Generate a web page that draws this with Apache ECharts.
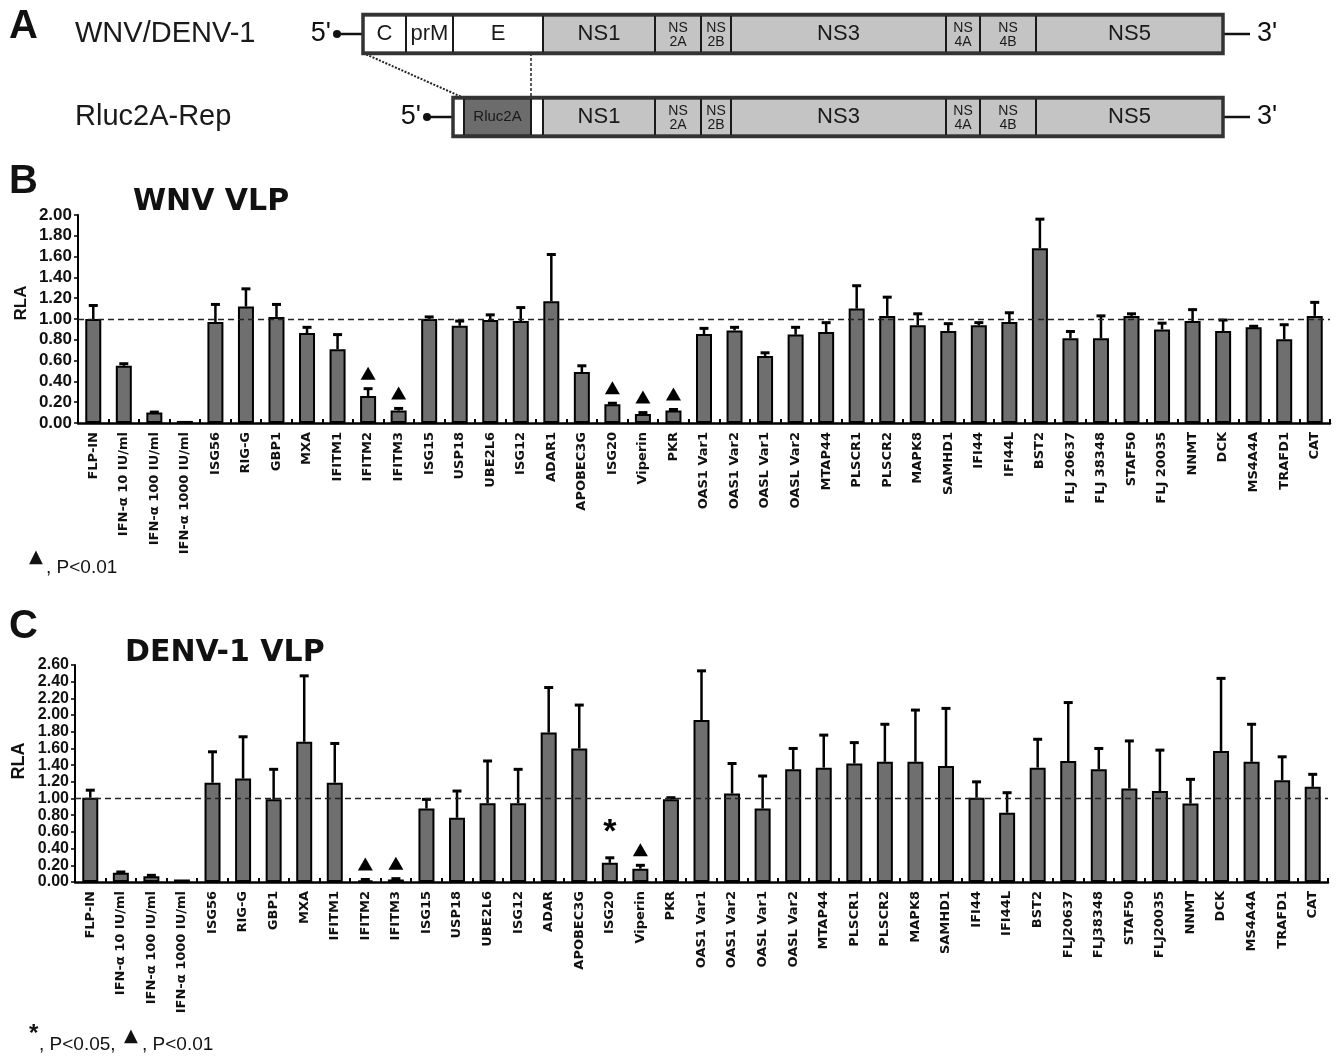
<!DOCTYPE html>
<html>
<head>
<meta charset="utf-8">
<title>WNV / DENV-1 VLP</title>
<script src="https://cdn.jsdelivr.net/npm/echarts@6/dist/echarts.min.js"></script>
<style>
html, body { margin: 0; padding: 0; background: #fff; }
#main { width: 1342px; height: 1058px; }
</style>
</head>
<body>
<div id="main"></div>
<script>
// ---- panel A: genome map, units along the map (0 = start of C) ----
var mapRows = ['WNV/DENV-1', 'Rluc2A-Rep'];
var segLabels = ['C', 'prM', 'E', 'NS1', 'NS\n2A', 'NS\n2B', 'NS3', 'NS\n4A', 'NS\n4B', 'NS5',
                 '', 'Rluc2A', '', 'NS1', 'NS\n2A', 'NS\n2B', 'NS3', 'NS\n4A', 'NS\n4B', 'NS5'];
var segStart  = [0, 43, 90, 180, 292, 338, 368, 583, 617, 673,
                 90, 101, 168, 180, 292, 338, 368, 583, 617, 673];
var segEnd    = [43, 90, 180, 292, 338, 368, 583, 617, 673, 860,
                 101, 168, 180, 292, 338, 368, 583, 617, 673, 860];
var segRow    = [0, 0, 0, 0, 0, 0, 0, 0, 0, 0,
                 1, 1, 1, 1, 1, 1, 1, 1, 1, 1];
var segKind   = ['w', 'w', 'w', 'g', 'g', 'g', 'g', 'g', 'g', 'g',
                 'w', 'd', 'w', 'g', 'g', 'g', 'g', 'g', 'g', 'g'];
var rowStart = [0, 90];
var rowEnd = [860, 860];
var linkTop = [0, 168];     // where the dotted links leave row 0
var linkBottom = [101, 168]; // where they reach row 1

// ---- panel B: WNV VLP ----
var catsB = ['FLP-IN', 'IFN-α 10 IU/ml', 'IFN-α 100 IU/ml', 'IFN-α 1000 IU/ml', 'ISG56', 'RIG-G', 'GBP1', 'MXA',
  'IFITM1', 'IFITM2', 'IFITM3', 'ISG15', 'USP18', 'UBE2L6', 'ISG12', 'ADAR1', 'APOBEC3G', 'ISG20', 'Viperin', 'PKR',
  'OAS1 Var1', 'OAS1 Var2', 'OASL Var1', 'OASL Var2', 'MTAP44', 'PLSCR1', 'PLSCR2', 'MAPK8', 'SAMHD1', 'IFI44',
  'IFI44L', 'BST2', 'FLJ 20637', 'FLJ 38348', 'STAF50', 'FLJ 20035', 'NNMT', 'DCK', 'MS4A4A', 'TRAFD1', 'CAT'];
var rlaB = [1.00, 0.55, 0.10, 0.02, 0.97, 1.12, 1.02, 0.865, 0.71, 0.26, 0.12, 1.00, 0.935, 0.99, 0.98, 1.17, 0.49,
  0.18, 0.087, 0.12, 0.855, 0.89, 0.645, 0.85, 0.875, 1.10, 1.03, 0.94, 0.885, 0.94, 0.97, 1.68, 0.815, 0.815, 1.03,
  0.90, 0.98, 0.885, 0.92, 0.805, 1.03];
var sdB = [0.13, 0.02, 0.005, 0, 0.17, 0.17, 0.12, 0.055, 0.14, 0.07, 0.02, 0.02, 0.045, 0.05, 0.13, 0.45, 0.06,
  0.01, 0.013, 0.01, 0.055, 0.03, 0.03, 0.07, 0.09, 0.22, 0.18, 0.11, 0.07, 0.025, 0.09, 0.28, 0.065, 0.215, 0.02,
  0.06, 0.11, 0.105, 0.01, 0.14, 0.13];
var triB = ['IFITM2', 'IFITM3', 'ISG20', 'Viperin', 'PKR'];
var starB = [];
var ticksB = { max: 2.0, step: 0.2 };

// ---- panel C: DENV-1 VLP ----
var catsC = ['FLP-IN', 'IFN-α 10 IU/ml', 'IFN-α 100 IU/ml', 'IFN-α 1000 IU/ml', 'ISG56', 'RIG-G', 'GBP1', 'MXA',
  'IFITM1', 'IFITM2', 'IFITM3', 'ISG15', 'USP18', 'UBE2L6', 'ISG12', 'ADAR', 'APOBEC3G', 'ISG20', 'Viperin', 'PKR',
  'OAS1 Var1', 'OAS1 Var2', 'OASL Var1', 'OASL Var2', 'MTAP44', 'PLSCR1', 'PLSCR2', 'MAPK8', 'SAMHD1', 'IFI44',
  'IFI44L', 'BST2', 'FLJ20637', 'FLJ38348', 'STAF50', 'FLJ20035', 'NNMT', 'DCK', 'MS4A4A', 'TRAFD1', 'CAT'];
var rlaC = [1.01, 0.11, 0.07, 0.03, 1.19, 1.24, 0.99, 1.68, 1.19, 0.02, 0.03, 0.88, 0.77, 0.945, 0.945, 1.79, 1.60,
  0.23, 0.16, 0.99, 1.94, 1.06, 0.88, 1.35, 1.37, 1.42, 1.44, 1.44, 1.39, 1.01, 0.83, 1.37, 1.45, 1.35, 1.12, 1.09,
  0.94, 1.57, 1.44, 1.22, 1.14];
var sdC = [0.09, 0.01, 0.01, 0, 0.37, 0.50, 0.36, 0.79, 0.47, 0.01, 0.01, 0.11, 0.32, 0.505, 0.405, 0.54, 0.52,
  0.06, 0.04, 0.02, 0.59, 0.36, 0.39, 0.25, 0.39, 0.25, 0.45, 0.62, 0.69, 0.19, 0.24, 0.34, 0.70, 0.25, 0.57, 0.49,
  0.29, 0.87, 0.45, 0.28, 0.15];
var triC = ['IFITM2', 'IFITM3', 'Viperin'];
var starC = ['ISG20'];
var ticksC = { max: 2.6, step: 0.2 };

var NARROW = "'Liberation Sans Narrow', 'Liberation Sans', Arial, sans-serif";
var SANS = "'Liberation Sans', Arial, sans-serif";
var WIDE = "'DejaVu Sans', sans-serif";

var myChart = echarts.init(document.getElementById('main'));

/**
 * 基因组片段
 */
function renderSegment(params, api) {
  var i = params.dataIndex;
  var a = api.coord([api.value(0), api.value(2)]);
  var b = api.coord([api.value(1), api.value(2)]);
  var h = 37;
  var fill = segKind[i] === 'g' ? '#c4c4c4' : (segKind[i] === 'd' ? '#6c6c6c' : '#ffffff');
  var label = segLabels[i];
  var twoLine = label.indexOf('\n') >= 0;
  return {
    type: 'group',
    children: [{
      type: 'rect',
      shape: { x: a[0], y: a[1] - h / 2, width: b[0] - a[0], height: h },
      style: { fill: fill, stroke: '#1a1a1a', lineWidth: 2 }
    }, {
      type: 'text',
      style: {
        text: label,
        x: (a[0] + b[0]) / 2,
        y: a[1] + (twoLine ? 1 : 0),
        align: 'center',
        verticalAlign: 'middle',
        fill: '#1a1a1a',
        font: twoLine ? '14px ' + NARROW : (segKind[i] === 'd' ? '15px ' + SANS : '22px ' + NARROW),
        lineHeight: 14
      }
    }]
  };
}

function renderRowEnds(params, api) {
  var a = api.coord([api.value(0), api.value(2)]);
  var b = api.coord([api.value(1), api.value(2)]);
  var h = 37;
  return {
    type: 'group',
    children: [
      { type: 'line', shape: { x1: a[0] - 25, y1: a[1], x2: a[0], y2: a[1] }, style: { stroke: '#111', lineWidth: 2.5 } },
      { type: 'circle', shape: { cx: a[0] - 26, cy: a[1], r: 4 }, style: { fill: '#111' } },
      { type: 'text', style: { text: "5'", x: a[0] - 32, y: a[1], align: 'right', verticalAlign: 'middle', fill: '#111', font: '27px ' + NARROW } },
      { type: 'line', shape: { x1: b[0], y1: b[1], x2: b[0] + 27, y2: b[1] }, style: { stroke: '#111', lineWidth: 2.5 } },
      { type: 'text', style: { text: "3'", x: b[0] + 34, y: b[1], align: 'left', verticalAlign: 'middle', fill: '#111', font: '27px ' + NARROW } },
      { type: 'rect', shape: { x: a[0], y: a[1] - h / 2 - 1, width: b[0] - a[0], height: h + 2 }, style: { fill: 'none', stroke: '#333', lineWidth: 3.5 } }
    ]
  };
}

function renderLink(params, api) {
  var a = api.coord([api.value(0), 0]);
  var b = api.coord([api.value(1), 1]);
  var diagonal = api.value(0) !== api.value(1);
  return {
    type: 'line',
    shape: { x1: a[0], y1: a[1] + 19, x2: b[0], y2: b[1] - 19 },
    style: { stroke: '#222', lineWidth: diagonal ? 2 : 1.5, lineDash: diagonal ? [2, 1.5] : [3, 2] }
  };
}

// 误差线
function renderErr(params, api) {
  var sd = api.value(2);
  if (!sd) return null;
  var p0 = api.coord([api.value(0), api.value(1)]);
  var p1 = api.coord([api.value(0), api.value(1) + sd]);
  return {
    type: 'group',
    children: [
      { type: 'line', shape: { x1: p0[0], y1: p0[1], x2: p1[0], y2: p1[1] }, style: { stroke: '#000', lineWidth: 2.5 } },
      { type: 'line', shape: { x1: p1[0] - 4.5, y1: p1[1], x2: p1[0] + 4.5, y2: p1[1] }, style: { stroke: '#000', lineWidth: 3 } }
    ]
  };
}

// 显著性标记
function renderMark(params, api) {
  var p = api.coord([api.value(0), api.value(1)]);
  if (api.value(2) === 1) {
    return {
      type: 'text',
      style: { text: '*', x: p[0], y: p[1] - 8, align: 'center', verticalAlign: 'bottom', fill: '#000', font: 'bold 34px ' + SANS }
    };
  }
  var cy = p[1] - 15;
  return {
    type: 'polygon',
    shape: { points: [[p[0], cy - 7], [p[0] + 7.5, cy + 6], [p[0] - 7.5, cy + 6]] },
    style: { fill: '#000' }
  };
}

function errData(cats, vals, sds) {
  return cats.map(function (c, i) { return [i, vals[i], sds[i]]; });
}

function markData(cats, vals, sds, tri, star) {
  var out = [];
  cats.forEach(function (c, i) {
    if (tri.indexOf(c) >= 0) out.push([i, vals[i] + sds[i], 0]);
    if (star.indexOf(c) >= 0) out.push([i, vals[i] + sds[i], 1]);
  });
  return out;
}

function catAxis(grid, cats) {
  return {
    type: 'category', gridIndex: grid, data: cats,
    axisLine: { lineStyle: { color: '#000', width: 2.5 } },
    axisTick: { show: true, inside: true, length: 4, lineStyle: { color: '#000', width: 2 } },
    axisLabel: { rotate: 90, interval: 0, margin: 9, color: '#111', fontFamily: WIDE, fontWeight: 'bold', fontSize: 13 }
  };
}

function valAxis(grid, t, fs) {
  return {
    type: 'value', gridIndex: grid, min: 0, max: t.max, interval: t.step,
    axisLine: { show: true, lineStyle: { color: '#000', width: 2 } },
    axisTick: { show: true, length: 4, lineStyle: { color: '#000', width: 1.5 } },
    splitLine: { show: false },
    axisLabel: {
      margin: 6, color: '#111', fontFamily: SANS, fontWeight: 'bold', fontSize: fs,
      formatter: function (v) { return v.toFixed(2); }
    }
  };
}

function barSeries(axis, vals) {
  return {
    type: 'bar', xAxisIndex: axis, yAxisIndex: axis, data: vals, barWidth: 16,
    itemStyle: { color: '#6f6f6f', borderColor: '#000', borderWidth: 2 },
    markLine: {
      silent: true, symbol: ['none', 'none'], label: { show: false },
      lineStyle: { color: '#222', type: [6, 4], width: 1.3 },
      data: [{ yAxis: 1 }]
    }
  };
}

var graphicText = function (text, x, y, font, extra) {
  var s = { text: text, x: x, y: y, font: font, fill: '#111', align: 'left', verticalAlign: 'middle' };
  for (var k in extra || {}) s[k] = extra[k];
  return { type: 'text', style: s };
};

var option = {
  animation: false,
  backgroundColor: '#fff',
  grid: [
    { left: 363, width: 860, top: 34, height: 83 },
    { left: 78, right: 12, top: 215, height: 208 },
    { left: 75, right: 14, top: 665, height: 217 }
  ],
  xAxis: [
    { type: 'value', gridIndex: 0, min: 0, max: 860, show: false },
    catAxis(1, catsB),
    catAxis(2, catsC)
  ],
  yAxis: [
    {
      type: 'category', gridIndex: 0, data: mapRows, inverse: true, boundaryGap: false,
      axisLine: { show: false }, axisTick: { show: false },
      axisLabel: { margin: 288, align: 'left', color: '#1a1a1a', fontFamily: NARROW, fontSize: 29 }
    },
    valAxis(1, ticksB, 17),
    valAxis(2, ticksC, 16)
  ],
  graphic: [
    graphicText('A', 9, 27, 'bold 40px ' + SANS),
    graphicText('B', 9, 182, 'bold 40px ' + SANS),
    graphicText('C', 9, 627, 'bold 40px ' + SANS),
    graphicText('WNV VLP', 133, 202, 'bold 30px ' + WIDE),
    graphicText('DENV-1 VLP', 125, 653, 'bold 30px ' + WIDE),
    { type: 'text', x: 21, y: 303, rotation: Math.PI / 2,
      style: { text: 'RLA', x: 0, y: 0, align: 'center', verticalAlign: 'middle', font: 'bold 17px ' + SANS, fill: '#111' } },
    { type: 'text', x: 19, y: 761, rotation: Math.PI / 2,
      style: { text: 'RLA', x: 0, y: 0, align: 'center', verticalAlign: 'middle', font: 'bold 18px ' + SANS, fill: '#111' } },
    graphicText('▲', 29, 557, '18px ' + WIDE),
    graphicText(', P<0.01', 46, 568, '19px ' + NARROW),
    graphicText('*', 29, 1034, 'bold 24px ' + SANS),
    graphicText(', P<0.05,', 39, 1045, '19px ' + NARROW),
    graphicText('▲', 124, 1036, '18px ' + WIDE),
    graphicText(', P<0.01', 142, 1045, '19px ' + NARROW)
  ],
  series: [
    {
      type: 'custom', xAxisIndex: 0, yAxisIndex: 0, renderItem: renderRowEnds, clip: false,
      data: rowStart.map(function (s, i) { return [s, rowEnd[i], i]; }), z: 3
    },
    {
      type: 'custom', xAxisIndex: 0, yAxisIndex: 0, renderItem: renderSegment, clip: false,
      data: segStart.map(function (s, i) { return [s, segEnd[i], segRow[i]]; }), z: 2
    },
    {
      type: 'custom', xAxisIndex: 0, yAxisIndex: 0, renderItem: renderLink, clip: false,
      data: linkTop.map(function (t, i) { return [t, linkBottom[i]]; }), z: 2
    },
    barSeries(1, rlaB),
    { type: 'custom', xAxisIndex: 1, yAxisIndex: 1, renderItem: renderErr, clip: false, z: 3, data: errData(catsB, rlaB, sdB) },
    { type: 'custom', xAxisIndex: 1, yAxisIndex: 1, renderItem: renderMark, clip: false, z: 3, data: markData(catsB, rlaB, sdB, triB, starB) },
    barSeries(2, rlaC),
    { type: 'custom', xAxisIndex: 2, yAxisIndex: 2, renderItem: renderErr, clip: false, z: 3, data: errData(catsC, rlaC, sdC) },
    { type: 'custom', xAxisIndex: 2, yAxisIndex: 2, renderItem: renderMark, clip: false, z: 3, data: markData(catsC, rlaC, sdC, triC, starC) }
  ]
};

myChart.setOption(option);
</script>
</body>
</html>
